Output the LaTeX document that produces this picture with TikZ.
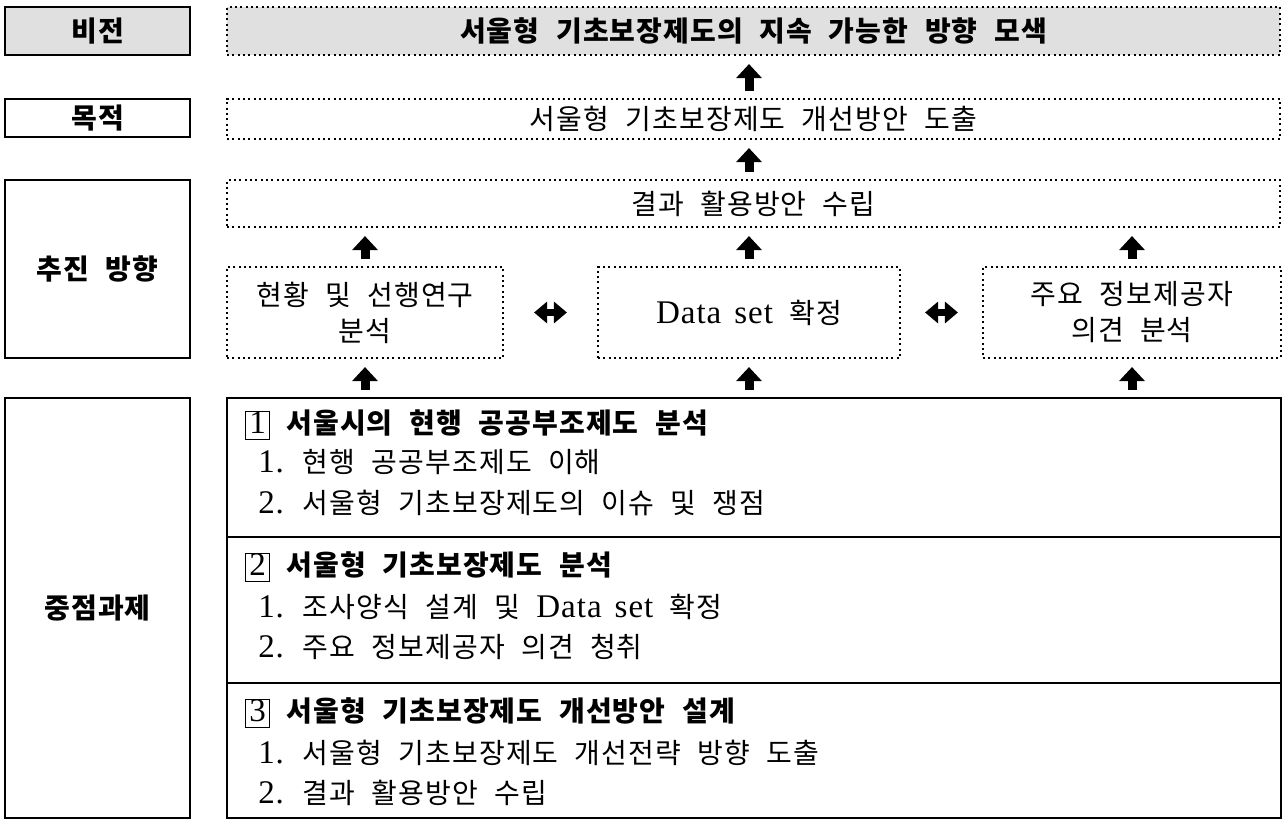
\documentclass[tikz,border=0pt]{standalone}
\usepackage{fontspec}
\setmainfont{Noto Sans CJK KR}[WordSpace=2.2, LetterSpace=4]
\newfontfamily\latfont{Liberation Serif}[Scale=1.18, WordSpace=1.4, LetterSpace=3]
\usepackage{tikz}
\usetikzlibrary{arrows.meta}
\definecolor{visgray}{RGB}{224,224,224}
\newcommand{\latn}[1]{{\latfont #1}}
\newcommand{\numbox}[1]{{\setlength{\fboxsep}{0pt}\setlength{\fboxrule}{0.7pt}\fbox{\makebox[17pt]{\rule[-4pt]{0pt}{20.5pt}\mdseries\latfont #1}}}}
\tikzset{
  txt/.style={font=\fontsize{21pt}{27pt}\selectfont},
  boldtxt/.style={font=\fontsize{21pt}{27pt}\selectfont\bfseries},
  lblbox/.style={draw, line width=1.3pt, minimum width=185*0.75pt, boldtxt},
  dotbox/.style={draw, line width=1.6pt, dash pattern=on 1.6pt off 2.4pt, align=center, txt},
  itm/.style={anchor=west, inner sep=0pt, txt},
  upar/.style={line width=6.75pt, -{Triangle[width=18.75pt,length=10.5pt]}, shorten <=5.25pt, shorten >=6pt},
  dblar/.style={line width=5.25pt, {Triangle[width=15.75pt,length=9.75pt]}-{Triangle[width=15.75pt,length=9.75pt]}, shorten <=#1, shorten >=#1}
}

\begin{document}
\begin{tikzpicture}[x=0.75pt, y=-0.75pt]
  \useasboundingbox (0,0) rectangle (1286,820);
  \node[lblbox, fill=visgray, minimum height=48*0.75pt] (lblvis) at (97.5,31) {비전};
  \node[dotbox, fill=visgray, minimum width=1053*0.75pt, minimum height=48*0.75pt, boldtxt] (vis) at (753.5,31) {서울형 기초보장제도의 지속 가능한 방향 모색};
  \node[lblbox, minimum height=38*0.75pt] (lblgoal) at (97.5,118) {목적};
  \node[dotbox, minimum width=1053*0.75pt, minimum height=40*0.75pt] (goal) at (753.5,119) {서울형 기초보장제도 개선방안 도출};
  \node[lblbox, minimum height=178*0.75pt] (lbldir) at (97.5,269) {추진 방향};
  \node[dotbox, minimum width=1053*0.75pt, minimum height=47*0.75pt] (res) at (753.5,203.5) {결과 활용방안 수립};
  \node[dotbox, minimum width=276*0.75pt, minimum height=91*0.75pt] (prev) at (365,312.5) {현황 및 선행연구\\분석};
  \node[dotbox, minimum width=302*0.75pt, minimum height=91*0.75pt] (data) at (749,312.5) {\latn{Data set} 확정};
  \node[dotbox, minimum width=298*0.75pt, minimum height=91*0.75pt] (info) at (1132,312.5) {주요 정보제공자\\의견 분석};
  \node[lblbox, minimum height=420*0.75pt] (lbltask) at (97.5,608) {중점과제};
  \node[draw, line width=1.3pt, minimum width=1054*0.75pt, minimum height=420*0.75pt] (task) at (754,608) {};
  \draw[line width=1.3pt] (227,537) -- (1281,537);
  \draw[line width=1.3pt] (227,683) -- (1281,683);

  \node[itm, boldtxt] (h1) at (245,425) {\numbox{1} 서울시의 현행 공공부조제도 분석};
  \node[itm] (h1a) at (258,462) {\latn{1.} 현행 공공부조제도 이해};
  \node[itm] (h1b) at (258,503) {\latn{2.} 서울형 기초보장제도의 이슈 및 쟁점};
  \node[itm, boldtxt] (h2) at (245,567) {\numbox{2} 서울형 기초보장제도 분석};
  \node[itm] (h2a) at (258,607) {\latn{1.} 조사양식 설계 및 \latn{Data set} 확정};
  \node[itm] (h2b) at (258,647) {\latn{2.} 주요 정보제공자 의견 청취};
  \node[itm, boldtxt] (h3) at (245,713) {\numbox{3} 서울형 기초보장제도 개선방안 설계};
  \node[itm] (h3a) at (258,753) {\latn{1.} 서울형 기초보장제도 개선전략 방향 도출};
  \node[itm] (h3b) at (258,793) {\latn{2.} 결과 활용방안 수립};

  \draw[upar] (goal.north -| data.north) -- (data.north |- vis.south);
  \draw[upar] (res.north -| data.north) -- (data.north |- goal.south);
  \draw[upar] (prev.north) -- (prev.north |- res.south);
  \draw[upar] (data.north) -- (data.north |- res.south);
  \draw[upar] (info.north) -- (info.north |- res.south);
  \draw[upar] (prev.south |- task.north) -- (prev.south);
  \draw[upar] (data.south |- task.north) -- (data.south);
  \draw[upar] (info.south |- task.north) -- (info.south);
  \draw[dblar=22.5pt] (prev.east) -- (data.west);
  \draw[dblar=18pt] (data.east) -- (info.west);
\end{tikzpicture}
\end{document}
